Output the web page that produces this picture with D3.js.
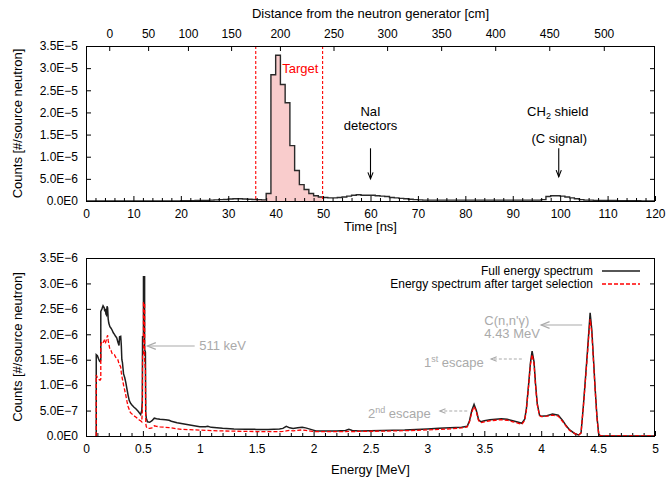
<!DOCTYPE html>
<html><head><meta charset="utf-8">
<script src="https://cdn.jsdelivr.net/npm/d3@7"></script>
<style>
body{margin:0;background:#fff}
svg{display:block}
text{font-family:"Liberation Sans",Arial,Helvetica,sans-serif}
</style>
</head><body>
<svg id="c" width="667" height="479"></svg>
<script>
// ---------------- DATA ----------------
// Top panel: time-of-flight histogram, 1 ns bins, counts in units of 1e-5
const timeBinWidth = 1;
const timeCounts = [
  0,0,0,0,0,0,0,0,0,0,
  0,0,0,0,0,0,0,0,0,0.002,
  0.004,0.006,0.008,0.01,0.012,0.015,0.02,0.025,0.03,0.035,
  0.045,0.05,0.05,0.045,0.04,0.035,0.03,0.025,0.17,2.85,
  3.29,2.63,2.22,1.25,0.69,0.37,0.26,0.17,0.12,0.09,
  0.08,0.07,0.07,0.08,0.09,0.11,0.13,0.14,0.13,0.13,
  0.13,0.12,0.11,0.10,0.08,0.07,0.06,0.05,0.04,0.03,
  0.025,0.02,0.02,0.02,0.02,0.02,0.02,0.02,0.02,0.02,
  0.02,0.02,0.02,0.02,0.02,0.02,0.02,0.02,0.02,0.02,
  0.02,0.02,0.02,0.02,0.02,0.02,0.03,0.10,0.12,0.12,
  0.11,0.09,0.07,0.05,0.03,0.02,0.02,0.015,0.01,0.01,
  0.01,0.01,0.005,0.005,0.005,0.005,0.005,0,0,0
];
const timeTicks = [0,10,20,30,40,50,60,70,80,90,100,110,120];
const countTicksTop = [0,0.5,1,1.5,2,2.5,3,3.5];           // x 1e-5
const distTicks = [0,50,100,150,200,250,300,350,400,450,500]; // cm
const distTickTimes = [4.9,13.1,21.5,30.6,40.9,52.2,63.5,74.9,86.3,97.7,109.2]; // ns
const targetWindow = [35.8, 49.9]; // ns

// Bottom panel: energy spectra, counts in units of 1e-6
const energies = [
  0.09,0.09,0.10,0.11,0.12,0.125,0.13,0.13,0.14,0.15,
  0.16,0.165,0.17,0.175,0.18,0.185,0.19,0.195,0.20,0.21,
  0.22,0.23,0.24,0.25,0.26,0.27,0.28,0.29,0.295,0.305,
  0.31,0.315,0.32,0.33,0.34,0.35,0.36,0.37,0.38,0.39,
  0.40,0.42,0.44,0.46,0.47,0.48,0.49,0.495,0.497,0.505,
  0.505,0.515,0.515,0.522,0.525,0.53,0.54,0.56,0.58,0.60,
  0.62,0.65,0.70,0.73,0.75,0.80,0.85,0.90,0.95,1.00,
  1.05,1.07,1.10,1.20,1.30,1.40,1.50,1.60,1.70,1.73,
  1.76,1.79,1.82,1.86,1.90,1.93,1.96,1.99,2.02,2.10,
  2.20,2.28,2.31,2.34,2.40,2.50,2.60,2.70,2.80,2.90,
  3.00,3.10,3.20,3.30,3.35,3.37,3.39,3.41,3.43,3.45,
  3.47,3.50,3.55,3.60,3.65,3.70,3.75,3.80,3.83,3.855,
  3.87,3.89,3.905,3.92,3.937,3.95,3.965,3.985,4.00,4.05,
  4.10,4.15,4.19,4.22,4.25,4.30,4.33,4.35,4.37,4.39,
  4.405,4.42,4.43,4.445,4.46,4.475,4.49,4.505,4.52,5.00
];
const fullSpectrum = [
  0,1.60,1.58,1.52,1.47,1.46,1.50,2.45,2.50,2.56,
  2.52,2.45,2.50,2.40,2.38,2.55,2.52,2.30,2.22,2.15,
  2.12,2.08,2.03,2.00,1.96,1.93,1.85,1.78,1.95,1.96,
  1.80,1.50,1.45,1.22,1.15,1.05,0.92,0.80,0.70,0.65,
  0.62,0.57,0.53,0.48,0.45,0.42,0.50,0.70,1.95,1.95,
  3.13,3.13,1.70,1.65,0.45,0.35,0.28,0.27,0.30,0.35,
  0.34,0.33,0.32,0.31,0.29,0.26,0.24,0.22,0.20,0.18,
  0.18,0.19,0.17,0.15,0.14,0.135,0.13,0.13,0.14,0.15,
  0.19,0.16,0.15,0.16,0.17,0.16,0.14,0.12,0.10,0.10,
  0.10,0.11,0.13,0.11,0.10,0.105,0.11,0.115,0.12,0.13,
  0.14,0.15,0.16,0.17,0.19,0.30,0.50,0.62,0.50,0.32,
  0.28,0.30,0.32,0.33,0.34,0.33,0.30,0.27,0.25,0.33,
  0.54,1.03,1.43,1.67,1.46,1.03,0.64,0.41,0.39,0.40,
  0.43,0.41,0.30,0.20,0.12,0.04,0.02,0.06,0.58,1.17,
  1.62,2.10,2.42,2.08,1.49,0.90,0.38,0.04,0,0
];
const targetSpectrum = [
  0,1.20,1.15,1.12,1.10,1.10,1.12,1.80,1.85,1.83,
  1.88,1.85,1.82,1.86,1.90,1.95,1.98,1.88,1.82,1.70,
  1.68,1.62,1.60,1.60,1.55,1.52,1.50,1.42,1.40,1.36,
  1.25,1.18,1.12,1.00,0.90,0.80,0.68,0.58,0.52,0.46,
  0.44,0.40,0.37,0.33,0.31,0.30,0.28,0.50,1.60,1.60,
  2.62,2.62,1.50,1.30,0.25,0.18,0.15,0.15,0.16,0.20,
  0.19,0.18,0.17,0.165,0.16,0.14,0.13,0.125,0.12,0.115,
  0.11,0.11,0.105,0.10,0.095,0.09,0.088,0.085,0.088,0.09,
  0.10,0.11,0.10,0.11,0.12,0.11,0.10,0.09,0.085,0.085,
  0.085,0.088,0.09,0.088,0.09,0.093,0.095,0.10,0.105,0.11,
  0.12,0.13,0.14,0.16,0.18,0.28,0.47,0.58,0.48,0.30,
  0.26,0.28,0.30,0.31,0.32,0.31,0.28,0.25,0.23,0.31,
  0.51,1.00,1.40,1.60,1.42,1.00,0.62,0.40,0.38,0.39,
  0.41,0.39,0.28,0.19,0.11,0.04,0.02,0.06,0.56,1.13,
  1.57,2.03,2.30,2.02,1.45,0.87,0.36,0.04,0,0
];
const energyTicks = [0,0.5,1,1.5,2,2.5,3,3.5,4,4.5,5];
const countTicksBottom = [0,0.5,1,1.5,2,2.5,3,3.5];       // x 1e-6
const seriesNames = ["Full energy spectrum","Energy spectrum after target selection"];

// ---------------- LAYOUT ----------------
const svg = d3.select("#c");
const L = 86, R = 655;
const T1 = 46, B1 = 201, T2 = 258, B2 = 436;
const FONT = '"Liberation Sans",Arial,Helvetica,sans-serif';

const xT = d3.scaleLinear().domain([0,120]).range([L,R]);
const yT = d3.scaleLinear().domain([0,3.5]).range([B1,T1]);
const xD = d3.scaleLinear().domain(distTicks).range(distTickTimes.map(xT));
const xE = d3.scaleLinear().domain([0,5]).range([L,R]);
const yE = d3.scaleLinear().domain([0,3.5]).range([B2,T2]);

function styleAxis(g, fs){
  g.select(".domain").remove();
  g.attr("font-family", FONT).attr("font-size", fs || 12);
  g.selectAll("line").attr("stroke","#000").attr("stroke-width",1);
  g.selectAll("text").attr("fill","#000");
}
const fmtTop = v => v===0 ? "0.0E0" : (v<1 ? (v*10).toFixed(1)+"E\u22126" : v.toFixed(1)+"E\u22125");
const fmtBot = v => v===0 ? "0.0E0" : (v<1 ? (v*10).toFixed(1)+"E\u22127" : v.toFixed(1)+"E\u22126");

// ---------- TOP PANEL ----------
const topG = svg.append("g");
const stepPts = [[0,0]];
timeCounts.forEach((v,i)=>{ const t=i*timeBinWidth; stepPts.push([t,v],[t+timeBinWidth,v]); });
stepPts.push([timeCounts.length*timeBinWidth,0]);

topG.append("clipPath").attr("id","tw").append("rect")
  .attr("x", xT(targetWindow[0])).attr("y", T1)
  .attr("width", xT(targetWindow[1])-xT(targetWindow[0])).attr("height", B1-T1);
topG.append("path").datum(stepPts)
  .attr("clip-path","url(#tw)")
  .attr("fill","#f9cccc")
  .attr("d", d3.area().x(d=>xT(d[0])).y0(yT(0)).y1(d=>yT(d[1])));
topG.append("path").datum(stepPts)
  .attr("fill","none").attr("stroke","#2a2a2a").attr("stroke-width",1.4)
  .attr("stroke-linejoin","miter")
  .attr("d", d3.line().x(d=>xT(d[0])).y(d=>yT(d[1])));
targetWindow.forEach(t=>{
  topG.append("line").attr("x1",xT(t)).attr("x2",xT(t)).attr("y1",T1).attr("y2",B1)
    .attr("stroke","#ff0000").attr("stroke-width",1.1).attr("stroke-dasharray","3,2");
});
const minorT = d3.range(0,121,2).filter(v=>v%10!==0);
topG.append("g").attr("transform",`translate(0,${B1})`)
  .call(d3.axisBottom(xT).tickValues(timeTicks).tickSize(-5).tickSizeOuter(0).tickPadding(8))
  .call(g=>styleAxis(g));
topG.append("g").attr("transform",`translate(0,${B1})`)
  .call(d3.axisBottom(xT).tickValues(minorT).tickSize(-3).tickSizeOuter(0).tickFormat(""))
  .call(g=>styleAxis(g));
topG.append("g").attr("transform",`translate(0,${T1})`)
  .call(d3.axisTop(xD).tickValues(distTicks).tickSize(-5).tickSizeOuter(0).tickPadding(8))
  .call(g=>styleAxis(g));
topG.append("g").attr("transform",`translate(${L},0)`)
  .call(d3.axisLeft(yT).tickValues(countTicksTop).tickSize(-5).tickSizeOuter(0).tickPadding(8).tickFormat(fmtTop))
  .call(g=>styleAxis(g));
topG.append("g").attr("transform",`translate(${R},0)`)
  .call(d3.axisRight(yT).tickValues(countTicksTop).tickSize(-5).tickSizeOuter(0).tickFormat(""))
  .call(g=>styleAxis(g));
topG.append("rect").attr("x",L+0.5).attr("y",T1+0.5).attr("width",R-L-1).attr("height",B1-T1)
  .attr("fill","none").attr("stroke","#000").attr("stroke-width",1);

svg.append("text").attr("x",(L+R)/2).attr("y",18).attr("text-anchor","middle")
  .attr("font-size",13).text("Distance from the neutron generator [cm]");
svg.append("text").attr("x",(L+R)/2).attr("y",231).attr("text-anchor","middle")
  .attr("font-size",13).text("Time [ns]");
svg.append("text").attr("transform",`translate(22,${(T1+B1)/2}) rotate(-90)`)
  .attr("text-anchor","middle").attr("font-size",13).text("Counts [#/source neutron]");

svg.append("text").attr("x",xT(41.4)).attr("y",yT(2.9)).attr("font-size",13)
  .attr("fill","#ff0000").text("Target");
svg.append("text").attr("x",xT(60)).attr("y",116).attr("text-anchor","middle").attr("font-size",13).text("NaI");
svg.append("text").attr("x",xT(60)).attr("y",130).attr("text-anchor","middle").attr("font-size",13).text("detectors");
const ch = svg.append("text").attr("x",xT(99.5)).attr("y",116).attr("text-anchor","middle").attr("font-size",13);
ch.append("tspan").text("CH");
ch.append("tspan").attr("dy",3).attr("font-size",9).text("2");
ch.append("tspan").attr("dy",-3).text(" shield");
svg.append("text").attr("x",xT(99.8)).attr("y",143).attr("text-anchor","middle").attr("font-size",13).text("(C signal)");

function arrow(x1,y1,x2,y2,color,dash,w,hl){
  const g = svg.append("g").attr("stroke",color).attr("stroke-width",w||1).attr("fill","none");
  g.append("line").attr("x1",x1).attr("y1",y1).attr("x2",x2).attr("y2",y2)
    .attr("stroke-dasharray",dash||null);
  const a = Math.atan2(y2-y1,x2-x1), h = hl||7, s = 0.38;
  g.append("path").attr("d",
    `M${x2-h*Math.cos(a-s)},${y2-h*Math.sin(a-s)}L${x2},${y2}L${x2-h*Math.cos(a+s)},${y2-h*Math.sin(a+s)}`);
}
arrow(xT(60),yT(1.19),xT(60),yT(0.5),"#000",null,1.1,7);
arrow(xT(99.7),yT(1.19),xT(99.7),yT(0.55),"#000",null,1.1,7);

// ---------- BOTTOM PANEL ----------
const botG = svg.append("g");
const minorE = d3.range(0,51,1).filter(v=>v%5!==0).map(v=>v/10);
botG.append("g").attr("transform",`translate(0,${B2})`)
  .call(d3.axisBottom(xE).tickValues(energyTicks).tickSize(-5).tickSizeOuter(0).tickPadding(8).tickFormat(d=>d))
  .call(g=>styleAxis(g));
botG.append("g").attr("transform",`translate(0,${B2})`)
  .call(d3.axisBottom(xE).tickValues(minorE).tickSize(-3).tickSizeOuter(0).tickFormat(""))
  .call(g=>styleAxis(g));
botG.append("g").attr("transform",`translate(${L},0)`)
  .call(d3.axisLeft(yE).tickValues(countTicksBottom).tickSize(-5).tickSizeOuter(0).tickPadding(8).tickFormat(fmtBot))
  .call(g=>styleAxis(g));
botG.append("g").attr("transform",`translate(${R},0)`)
  .call(d3.axisRight(yE).tickValues(countTicksBottom).tickSize(-5).tickSizeOuter(0).tickFormat(""))
  .call(g=>styleAxis(g));

const lineE = d3.line().x((d,i)=>xE(energies[i])).y(d=>yE(d));
botG.append("path").datum(fullSpectrum).attr("fill","none").attr("stroke","#1e1e1e")
  .attr("stroke-width",1.5).attr("d",lineE);
botG.append("path").datum(targetSpectrum).attr("fill","none").attr("stroke","#ff0000")
  .attr("stroke-width",1.3).attr("stroke-dasharray","4,2").attr("d",lineE);

botG.append("rect").attr("x",L+0.5).attr("y",T2+0.5).attr("width",R-L-1).attr("height",B2-T2)
  .attr("fill","none").attr("stroke","#000").attr("stroke-width",1);

svg.append("text").attr("x",(L+R)/2).attr("y",474).attr("text-anchor","middle")
  .attr("font-size",13).text("Energy [MeV]");
svg.append("text").attr("transform",`translate(22,${(T2+B2)/2}) rotate(-90)`)
  .attr("text-anchor","middle").attr("font-size",13).text("Counts [#/source neutron]");

const leg = svg.append("g").attr("font-size",12);
[[seriesNames[0],275,"#1e1e1e",null,1.5],[seriesNames[1],288,"#ff0000","4,2",1.3]].forEach(([t,y,c,d,w])=>{
  leg.append("text").attr("x",593).attr("y",y).attr("text-anchor","end").text(t);
  leg.append("line").attr("x1",602).attr("x2",640).attr("y1",y-4).attr("y2",y-4)
    .attr("stroke",c).attr("stroke-width",w).attr("stroke-dasharray",d);
});

const GR = "#aaaaaa";
svg.append("text").attr("x",xE(0.995)).attr("y",yE(1.77)+4.5).attr("font-size",13).attr("fill",GR).text("511 keV");
arrow(xE(0.955),yE(1.77),xE(0.54),yE(1.77),GR,null,1.2,9);
svg.append("text").attr("x",xE(3.5)).attr("y",324.5).attr("font-size",13).attr("fill",GR).text("C(n,n'\u03b3)");
svg.append("text").attr("x",xE(3.5)).attr("y",338).attr("font-size",13).attr("fill",GR).text("4.43 MeV");
arrow(xE(4.36),325,xE(4.0),325,GR,null,1.2,9);
const e1 = svg.append("text").attr("x",424).attr("y",366.5).attr("font-size",13).attr("fill",GR);
e1.append("tspan").text("1");
e1.append("tspan").attr("dy",-5).attr("font-size",9).text("st");
e1.append("tspan").attr("dy",5).text(" escape");
arrow(xE(3.83),359,xE(3.56),359,GR,"3,2",1.1,6);
const e2 = svg.append("text").attr("x",368).attr("y",417.5).attr("font-size",13).attr("fill",GR);
e2.append("tspan").text("2");
e2.append("tspan").attr("dy",-5).attr("font-size",9).text("nd");
e2.append("tspan").attr("dy",5).text(" escape");
arrow(xE(3.35),411,xE(3.11),411,GR,"3,2",1.1,6);
</script>
</body></html>
